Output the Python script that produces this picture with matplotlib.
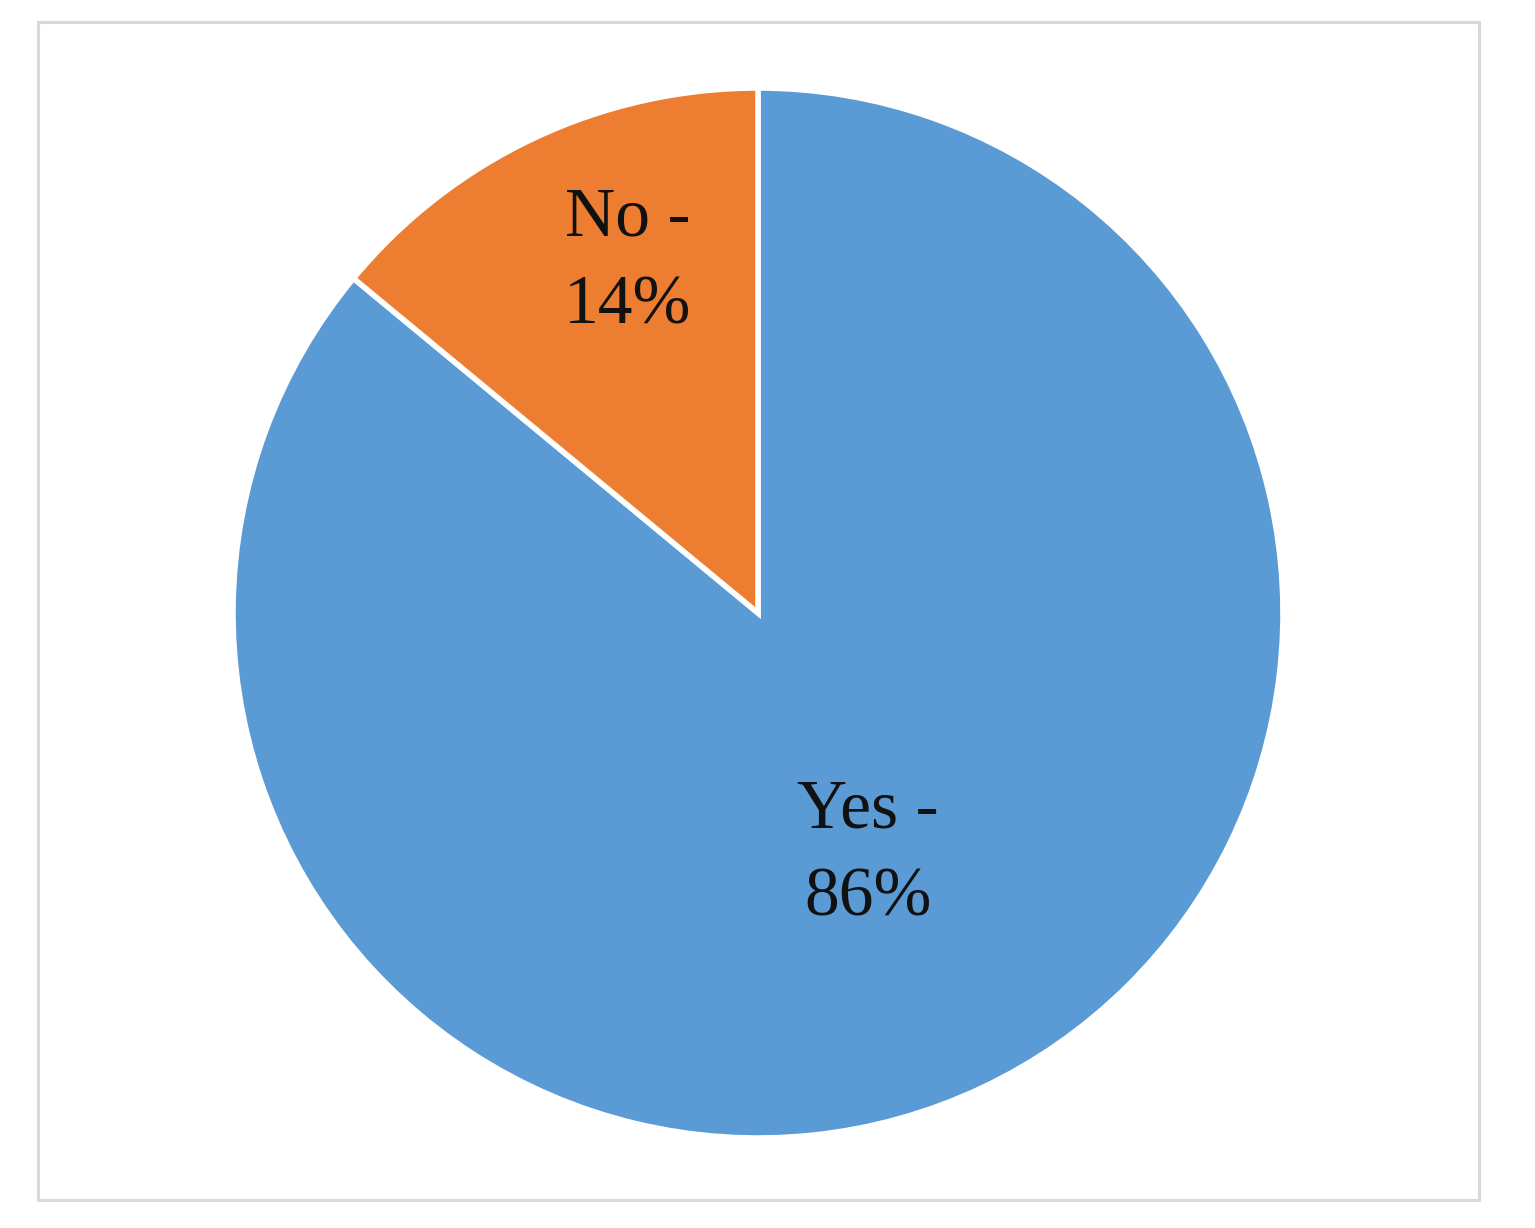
import numpy as np
import matplotlib
matplotlib.use("Agg")
import matplotlib.pyplot as plt
from matplotlib.patches import Rectangle

categories = ["Yes", "No"]
values = [86, 14]
colors = ["#5B9BD5", "#ED7D31"]

# label anchor positions (layout, in pie-radius units)
label_xy = [(0.21, -0.46), (-0.248, 0.667)]

W, H = 1535, 1228
fig = plt.figure(figsize=(W / 100, H / 100), dpi=100)
fig.patch.set_facecolor("white")

# border
fig.patches.append(Rectangle((38 / W, 1 - 1200 / H), (1479 - 38) / W, (1200 - 22) / H,
                             transform=fig.transFigure, fill=False,
                             edgecolor="#D9D9D9", linewidth=2.2))

ax = fig.add_axes([233 / W, 90 / H, 1050 / W, 1050 / H])
wedges, _ = ax.pie(values, colors=colors, startangle=90, counterclock=False,
                   radius=1.0, wedgeprops=dict(edgecolor="white", linewidth=4))
ax.set_xlim(-1, 1)
ax.set_ylim(-1, 1)
ax.set_aspect("equal")
ax.axis("off")

for cat, v, (x, y) in zip(categories, values, label_xy):
    ax.text(x, y, f"{cat} -\n{v}%",
            ha="center", va="center", fontsize=50, family="Liberation Serif",
            color="#111111", linespacing=1.5)

fig.savefig("out.png", dpi=100)
